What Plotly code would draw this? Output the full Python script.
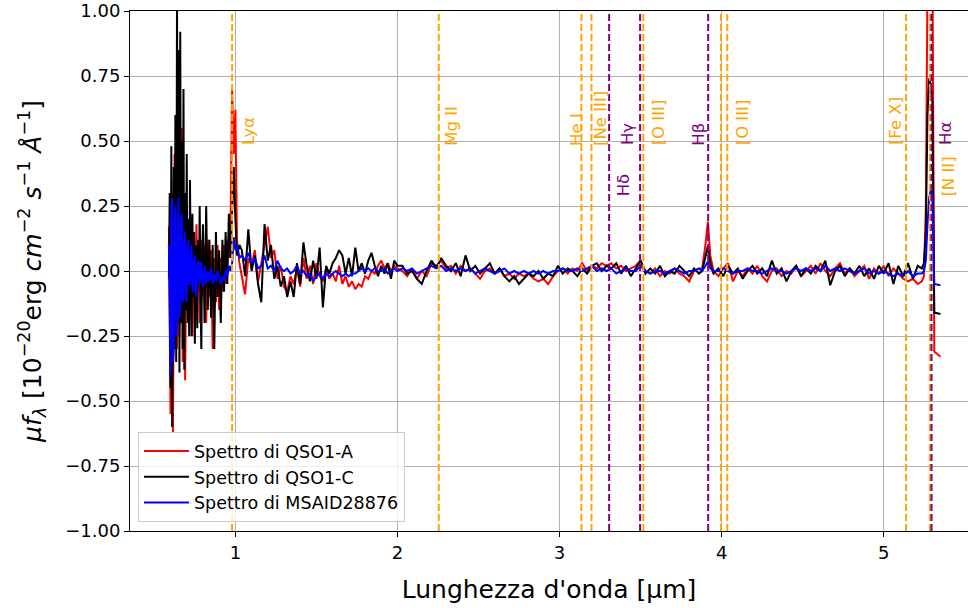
import plotly.graph_objects as go

# ---------------- data ----------------
# wavelength grid, in segments (micron)
wl_blue_end = [0.590, 0.595, 0.600, 0.605, 0.610, 0.615, 0.620, 0.625, 0.630, 0.635,
               0.640, 0.645, 0.650, 0.655, 0.660, 0.665, 0.670, 0.675, 0.680, 0.685,
               0.690, 0.695, 0.700, 0.705, 0.710, 0.715, 0.720, 0.725, 0.730, 0.735,
               0.740, 0.745, 0.750, 0.755, 0.760, 0.765, 0.770, 0.775, 0.780, 0.785,
               0.790, 0.795, 0.800,
               0.81, 0.82, 0.83, 0.84, 0.85, 0.86, 0.87, 0.88,
               0.89, 0.90, 0.91, 0.92, 0.93, 0.94, 0.95, 0.96]
wl_lya = [0.97, 0.98, 0.99, 1.00, 1.01, 1.025]
wl_near = [1.04, 1.06, 1.08, 1.10, 1.12, 1.14, 1.16, 1.18, 1.20, 1.22,
           1.24, 1.26, 1.28, 1.30, 1.32, 1.34, 1.36, 1.38, 1.40, 1.42,
           1.44, 1.46, 1.48, 1.50, 1.52, 1.54, 1.56, 1.58, 1.60, 1.62,
           1.64, 1.66, 1.68, 1.70, 1.72, 1.74, 1.76, 1.78, 1.80, 1.82,
           1.84, 1.86, 1.88, 1.90, 1.92, 1.94, 1.96, 1.98, 2.00]
wl_mid = [2.03, 2.06, 2.09, 2.12, 2.15, 2.18, 2.21, 2.24, 2.27, 2.30,
          2.33, 2.36, 2.39, 2.42, 2.45, 2.48, 2.51, 2.54, 2.57, 2.60,
          2.63, 2.66, 2.69, 2.72, 2.75, 2.78, 2.81, 2.84, 2.87, 2.90,
          2.93, 2.96, 2.99, 3.02, 3.05, 3.08, 3.11, 3.14, 3.17, 3.20,
          3.23, 3.26, 3.29, 3.32, 3.35, 3.38, 3.41, 3.44, 3.47, 3.50,
          3.53, 3.56, 3.59, 3.62, 3.65, 3.68, 3.71, 3.74, 3.77, 3.80,
          3.83, 3.86]
wl_hb = [3.88, 3.90, 3.915, 3.93, 3.95]
wl_red = [3.98, 4.01, 4.04, 4.07, 4.10, 4.13, 4.16, 4.19, 4.22, 4.25,
          4.28, 4.31, 4.34, 4.37, 4.40, 4.43, 4.46, 4.49, 4.52, 4.55,
          4.58, 4.61, 4.64, 4.67, 4.70, 4.73, 4.76, 4.79, 4.82, 4.85,
          4.88, 4.91, 4.94, 4.97, 5.00, 5.03, 5.06, 5.09, 5.12, 5.15,
          5.18, 5.21]
wl_ha = [5.235, 5.248, 5.26, 5.27, 5.28, 5.29, 5.30, 5.312, 5.35]

# QSO1-A (red)
qso1a_blue_end = [0.17, -0.20, -0.55, 0.10, 0.30, -0.62, -0.10, 0.45, -0.20, 0.20,
                  -0.30, 0.40, 0.77, -0.25, 0.30, -0.10, 0.55, -0.35, 0.20, 0.30,
                  -0.42, -0.05, 0.25, -0.15, 0.10, 0.20, -0.18, 0.05, 0.12, -0.25,
                  0.00, 0.15, -0.12, 0.05, 0.18, -0.08, 0.02, 0.10, -0.20, 0.05,
                  0.12, -0.10, 0.08,
                  0.10, -0.20, 0.12, -0.10, 0.08, -0.30, 0.05, -0.12,
                  0.10, -0.15, 0.05, -0.08, 0.10, -0.05, 0.12, 0.05]
qso1a_lya = [0.15, 0.70, 0.45, 0.62, 0.12, 0.03]
qso1a_near = [-0.02, -0.09, 0.05, 0.02, 0.08, -0.04, 0.03, 0.10, 0.17, 0.05,
              0.08, -0.03, 0.02, -0.06, -0.08, -0.02, -0.05, 0.01, -0.06, 0.05,
              -0.03, 0.02, -0.05, 0.03, -0.02, -0.04, 0.01, -0.03, -0.01, -0.04,
              0.02, -0.05, -0.02, -0.06, -0.04, -0.07, -0.05, -0.06, -0.02, -0.03,
              0.00, -0.01, 0.02, 0.04, 0.01, 0.03, 0.00, 0.02, 0.01]
qso1a_mid = [0.00, -0.02, 0.01, -0.03, 0.00, -0.02, 0.03, 0.02, 0.04, 0.01,
             0.02, -0.01, 0.02, 0.00, 0.01, -0.01, -0.03, 0.00, 0.01, -0.01,
             0.01, -0.02, -0.01, -0.03, -0.01, -0.02, -0.01, -0.03, -0.04, -0.03,
             -0.05, -0.02, 0.00, 0.01, -0.01, 0.01, 0.00, 0.03, 0.00, 0.02,
             0.01, 0.03, 0.02, 0.03, 0.01, 0.02, 0.00, 0.01, 0.02, 0.04,
             0.00, -0.01, 0.01, -0.02, 0.00, -0.01, 0.01, -0.01, -0.02, -0.04,
             0.00, 0.01]
qso1a_hb = [0.01, 0.10, 0.19, 0.06, 0.00]
qso1a_red = [-0.02, 0.01, 0.03, -0.04, 0.00, -0.02, 0.01, -0.01, 0.02, -0.02,
             -0.04, 0.00, 0.01, -0.02, 0.00, -0.01, 0.02, -0.02, 0.00, 0.02,
             -0.01, 0.03, 0.00, -0.02, 0.01, 0.03, -0.01, 0.01, -0.02, 0.00,
             0.02, -0.03, 0.01, -0.01, 0.02, -0.02, 0.01, -0.01, -0.03, -0.04,
             -0.03, -0.05]
qso1a_ha = [-0.04, -0.02, 0.25, 1.10, 1.60, 1.50, 1.30, -0.31, -0.33]

# QSO1-C (black)
qso1c_blue_end = [-0.03, 0.30, -0.45, 0.48, -0.60, 0.20, 0.40, -0.30, 0.60, -0.35,
                  1.05, -0.10, 0.85, -0.39, 0.92, -0.20, 0.50, -0.30, 0.70, -0.38,
                  0.30, -0.15, 0.45, -0.20, 0.20, -0.25, 0.35, 0.00, -0.25, 0.22,
                  -0.10, 0.15, -0.28, 0.05, 0.10, -0.22, 0.12, -0.05, 0.25, -0.10,
                  -0.30, 0.05, 0.18,
                  -0.20, 0.25, -0.15, 0.12, -0.18, 0.10, -0.30, 0.15,
                  -0.10, 0.08, -0.20, 0.12, -0.08, 0.15, -0.05, 0.22]
qso1c_lya = [0.05, 0.25, 0.40, 0.20, 0.06, 0.10]
qso1c_near = [0.08, -0.02, 0.16, 0.00, 0.06, -0.05, -0.12, 0.18, 0.04, 0.10,
              -0.03, 0.02, -0.06, -0.02, -0.10, -0.04, -0.10, 0.03, -0.05, 0.11,
              0.02, -0.04, 0.04, -0.03, 0.09, -0.14, 0.02, -0.01, 0.03, 0.05,
              0.08, 0.06, -0.01, 0.05, -0.02, 0.09, 0.00, 0.03, -0.01, 0.04,
              0.07, 0.02, -0.02, 0.02, -0.01, 0.03, -0.03, 0.04, 0.02]
qso1c_mid = [0.02, -0.01, 0.00, -0.03, -0.05, 0.00, 0.04, 0.01, 0.05, 0.02,
             0.00, 0.03, -0.02, 0.06, 0.00, 0.02, -0.01, 0.01, 0.03, -0.01,
             0.01, -0.02, -0.04, -0.02, -0.05, -0.03, -0.01, -0.02, 0.00, -0.03,
             -0.01, -0.02, 0.02, -0.01, 0.01, 0.00, -0.02, 0.01, -0.01, 0.02,
             0.03, 0.00, 0.02, 0.01, 0.03, -0.01, 0.02, -0.02, 0.01, 0.04,
             -0.01, 0.01, -0.01, 0.02, -0.02, 0.00, -0.01, 0.02, 0.00, -0.02,
             0.01, -0.01]
qso1c_hb = [0.00, 0.06, 0.095, 0.03, -0.01]
qso1c_red = [0.01, -0.02, 0.02, -0.01, 0.01, -0.03, 0.00, 0.02, -0.01, 0.01,
             -0.02, 0.04, -0.01, 0.01, -0.04, 0.00, 0.02, -0.02, 0.01, -0.01,
             0.02, 0.00, 0.04, -0.055, 0.00, 0.02, -0.02, 0.01, -0.01, 0.02,
             -0.02, 0.01, -0.03, 0.02, -0.01, 0.03, -0.05, 0.02, -0.02, 0.03,
             -0.03, 0.02]
qso1c_ha = [0.01, 0.03, 0.15, 0.60, 0.74, 0.72, 0.65, -0.16, -0.165]

# MSAID28876 (blue)
msa_blue_end = [0.10, -0.30, -0.40, 0.25, 0.28, -0.35, -0.30, 0.20, 0.25, -0.25,
                -0.20, 0.15, 0.28, -0.18, -0.15, 0.20, 0.22, -0.12, -0.10, 0.10,
                0.15, -0.08, -0.12, 0.08, 0.12, -0.05, -0.05, 0.06, 0.10, -0.06,
                -0.08, 0.04, 0.06, -0.07, -0.10, 0.02, 0.04, -0.03, -0.05, 0.03,
                0.03, -0.04, -0.06,
                0.02, -0.05, 0.00, -0.04, 0.01, -0.05, -0.01, -0.04,
                0.00, -0.03, -0.05, -0.02, -0.04, 0.00, -0.02, 0.02]
msa_lya = [0.00, 0.03, 0.13, 0.08, 0.10, 0.05]
msa_near = [0.06, 0.04, 0.07, 0.03, 0.05, 0.01, 0.02, 0.06, 0.01, 0.02,
            0.00, 0.04, 0.01, 0.00, 0.01, -0.01, 0.00, 0.02, -0.01, 0.00,
            -0.02, -0.01, -0.04, -0.02, -0.01, -0.03, -0.01, -0.02, -0.01, 0.00,
            -0.01, -0.02, -0.01, -0.02, -0.01, -0.01, 0.00, 0.01, 0.00, 0.01,
            0.00, 0.01, 0.00, 0.00, 0.01, -0.01, 0.00, 0.01, 0.00]
msa_mid = [0.01, 0.00, 0.01, -0.01, 0.00, 0.01, 0.02, 0.01, 0.02, 0.00,
           0.01, 0.00, 0.01, 0.00, 0.01, -0.01, 0.00, 0.01, 0.00, -0.01,
           0.00, 0.01, -0.01, 0.00, -0.01, 0.00, -0.01, 0.00, -0.01, 0.00,
           -0.01, 0.00, 0.00, 0.01, 0.00, 0.00, 0.01, 0.00, 0.01, 0.02,
           0.00, 0.01, 0.00, 0.01, -0.01, 0.00, 0.01, 0.00, 0.00, 0.02,
           0.00, -0.01, 0.00, 0.00, -0.01, 0.00, 0.01, 0.00, -0.01, 0.00,
           0.00, 0.01]
msa_hb = [0.00, 0.02, 0.036, 0.01, 0.00]
msa_red = [0.00, 0.01, 0.00, -0.01, 0.00, 0.00, 0.01, 0.00, 0.00, -0.01,
           0.00, 0.01, 0.00, 0.00, -0.01, 0.00, 0.01, 0.00, 0.01, 0.00,
           0.01, 0.00, 0.02, 0.00, 0.01, 0.00, 0.01, 0.00, -0.01, 0.00,
           0.01, -0.01, 0.00, -0.01, 0.00, -0.01, -0.02, -0.01, -0.02, 0.00,
           -0.02, -0.01]
msa_ha = [-0.01, 0.00, 0.04, 0.18, 0.28, 0.31, 0.29, -0.05, -0.055]

# emission lines (observed wavelength, micron)
line_names = ["Lyα", "Mg II", "He I", "[Ne III]", "Hδ", "Hγ", "[O III]",
              "Hβ", "[O III]", "[O III]", "[Fe X]", "[N II]", "Hα"]
line_waves = [0.980, 2.255, 3.135, 3.197, 3.306, 3.497, 3.517,
              3.917, 3.996, 4.035, 5.138, 5.285, 5.295]
line_is_balmer = [False, False, False, False, True, True, False,
                  True, False, False, False, False, True]
line_labelled = [True, True, True, True, True, True, True,
                 True, False, True, True, True, True]

y_ticks = [-1.00, -0.75, -0.50, -0.25, 0.00, 0.25, 0.50, 0.75, 1.00]
x_ticks = [1, 2, 3, 4, 5]

# ---------------- assemble ----------------
wl = wl_blue_end + wl_lya + wl_near + wl_mid + wl_hb + wl_red + wl_ha
qso1a = qso1a_blue_end + qso1a_lya + qso1a_near + qso1a_mid + qso1a_hb + qso1a_red + qso1a_ha
qso1c = qso1c_blue_end + qso1c_lya + qso1c_near + qso1c_mid + qso1c_hb + qso1c_red + qso1c_ha
msa = msa_blue_end + msa_lya + msa_near + msa_mid + msa_hb + msa_red + msa_ha

FONT = "DejaVu Sans"
ORANGE = "#FFA500"
PURPLE = "#800080"

fig = go.Figure()
for name, vals, col in [("Spettro di QSO1-A", qso1a, "#FF0000"),
                        ("Spettro di QSO1-C", qso1c, "#000000"),
                        ("Spettro di MSAID28876", msa, "#0000FF")]:
    fig.add_trace(go.Scatter(x=wl, y=vals, mode="lines", name=name,
                             line=dict(color=col, width=2)))

# label placement styling: (xanchor, xshift px, y)
label_style = {
    "Lyα": ("left", 5, 0.475), "Mg II": ("left", 1, 0.475), "He I": ("right", 6, 0.475),
    "[Ne III]": ("left", -3, 0.475), "Hδ": ("left", 3, 0.28), "Hγ": ("right", -1, 0.475),
    "[O III]": ("left", 4, 0.475), "Hβ": ("right", 1, 0.475), "[Fe X]": ("right", 1, 0.475),
    "[N II]": ("left", 7, 0.28), "Hα": ("left", 2, 0.475),
}

for nm, xw, balmer, lab in zip(line_names, line_waves, line_is_balmer, line_labelled):
    col = PURPLE if balmer else ORANGE
    fig.add_shape(type="line", xref="x", yref="paper", x0=xw, x1=xw, y0=0, y1=1,
                  line=dict(color=col, width=2, dash="7px,3px"), layer="above")
    if lab:
        xa, xs, yy = label_style[nm]
        fig.add_annotation(x=xw, y=yy, xref="x", yref="y", text=nm, showarrow=False,
                           textangle=-90, xanchor=xa, yanchor="bottom", xshift=xs,
                           font=dict(family=FONT, size=16.5, color=col))

fig.update_layout(
    width=968, height=608,
    margin=dict(l=130, r=0, t=11, b=77),
    paper_bgcolor="white", plot_bgcolor="white",
    font=dict(family=FONT, size=18, color="black"),
    showlegend=True,
    legend=dict(x=0.0095, y=0.017, xanchor="left", yanchor="bottom",
                bgcolor="rgba(255,255,255,0.8)", bordercolor="#cccccc", borderwidth=1,
                font=dict(family=FONT, size=17.5), itemwidth=45),
    xaxis=dict(range=[0.35, 5.52], tickvals=x_ticks, ticktext=[str(t) for t in x_ticks],
               showgrid=True, gridcolor="#b0b0b0", gridwidth=1,
               showline=True, linecolor="black", linewidth=1, mirror=True,
               ticks="outside", ticklen=5, tickcolor="black", zeroline=False,
               tickfont=dict(size=18),
               title=dict(text="Lunghezza d'onda [µm]", font=dict(size=25), standoff=18)),
    yaxis=dict(range=[-1, 1], tickvals=y_ticks, tickformat=".2f",
               showgrid=True, gridcolor="#b0b0b0", gridwidth=1,
               showline=True, linecolor="black", linewidth=1,
               ticks="outside", ticklen=5, tickcolor="black", zeroline=False,
               tickfont=dict(size=18),
               title=dict(text="<i>μf</i><sub><i>λ</i></sub> [10<sup>−20</sup>erg <i>cm</i><sup>−2</sup> "
                               "<i>s</i><sup>−1</sup> <i>Å</i><sup>−1</sup>]",
                          font=dict(size=25), standoff=16)),
)

fig.write_html("out.html")
